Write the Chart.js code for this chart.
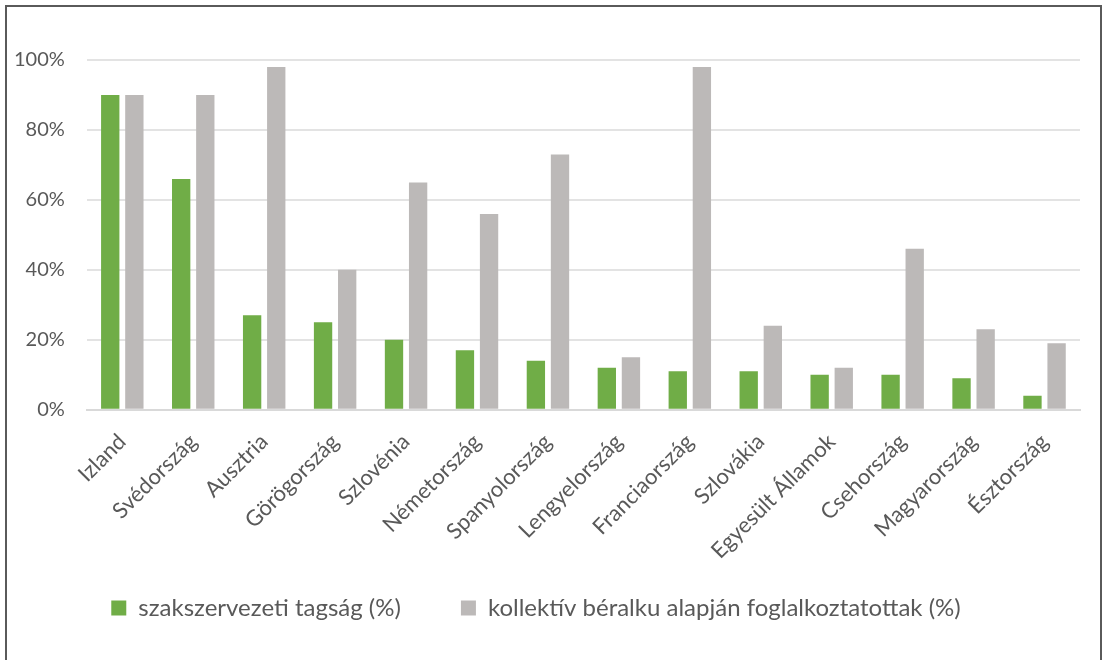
<!DOCTYPE html>
<html>
<head>
<meta charset="utf-8">
<script src="https://cdn.jsdelivr.net/npm/chart.js@4/dist/chart.umd.min.js"></script>
<style>
  body { margin: 0; background: #fff; }
  #wrap { position: relative; width: 1104px; height: 660px; overflow: hidden; }
  #frame { position: absolute; left: 5px; top: 5px; width: 1097px; height: 700px; border: 2px solid #5a5a5a; box-sizing: border-box; pointer-events: none; }
  canvas { position: absolute; left: 0; top: 0; }
</style>
</head>
<body>
<div id="wrap">
  <canvas id="chart" width="1104" height="660"></canvas>
  <div id="frame"></div>
</div>
<script>
const countries = ['Izland', 'Svédország', 'Ausztria', 'Görögország', 'Szlovénia', 'Németország', 'Spanyolország',
  'Lengyelország', 'Franciaország', 'Szlovákia', 'Egyesült Államok', 'Csehország', 'Magyarország', 'Észtország'];
const unionMembership = [90, 66, 27, 25, 20, 17, 14, 12, 11, 11, 10, 10, 9, 4];
const collectiveCoverage = [90, 90, 98, 40, 65, 56, 73, 15, 98, 24, 12, 46, 23, 19];
const yTicks = [0, 20, 40, 60, 80, 100];

const textColor = '#595959';
const fontFamily = 'Lato, "Open Sans", sans-serif';

// pull the legend up closer to the rotated labels (its padding also sets the item gap)
const legendLift = {
  id: 'legendLift',
  afterLayout(chart) {
    chart.legend.top -= 47;
    chart.legend.bottom -= 47;
  }
};

new Chart(document.getElementById('chart'), {
  type: 'bar',
  data: {
    labels: countries,
    datasets: [
      {
        label: 'szakszervezeti tagság (%)',
        data: unionMembership,
        backgroundColor: '#70ad47'
      },
      {
        label: 'kollektív béralku alapján foglalkoztatottak (%)',
        data: collectiveCoverage,
        backgroundColor: '#bcb9b8'
      }
    ]
  },
  plugins: [legendLift],
  options: {
    responsive: false,
    animation: false,
    categoryPercentage: 0.68,
    barPercentage: 0.76,
    layout: {
      padding: { left: -8, right: 24, top: 60, bottom: -17 }
    },
    scales: {
      x: {
        grid: { display: false, drawTicks: false },
        border: { color: '#d9d9d9', width: 2 },
        ticks: {
          color: textColor,
          font: { family: fontFamily, size: 22 },
          minRotation: 45,
          maxRotation: 45,
          padding: 19
        }
      },
      y: {
        min: 0,
        max: 100,
        afterBuildTicks: axis => {
          axis.ticks = yTicks.map(v => ({ value: v }));
        },
        grid: { color: '#e3e3e3', lineWidth: 2, drawTicks: false },
        border: { display: false },
        ticks: {
          color: textColor,
          font: { family: fontFamily, size: 20 },
          padding: 22,
          callback: v => v + '%'
        }
      }
    },
    plugins: {
      legend: {
        position: 'bottom',
        labels: {
          color: textColor,
          font: { family: fontFamily, size: 24 },
          boxWidth: 15,
          boxHeight: 15,
          padding: 60
        }
      },
      tooltip: { enabled: false }
    }
  }
});
</script>
</body>
</html>
